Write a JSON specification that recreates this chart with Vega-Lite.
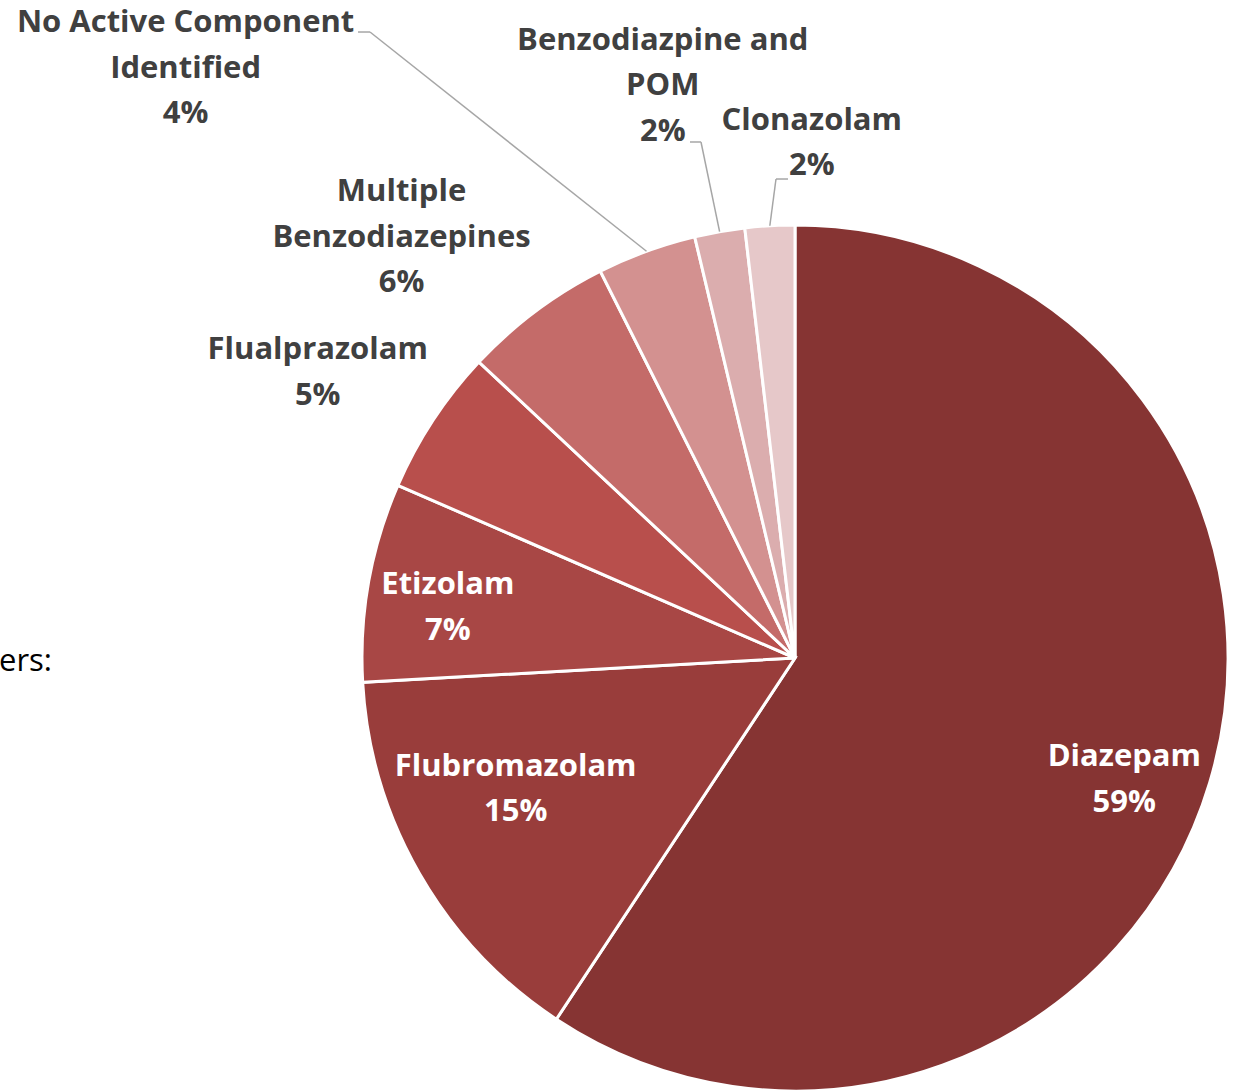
{
  "$schema": "https://vega.github.io/schema/vega-lite/v6.json",
  "width": 878,
  "height": 866,
  "autosize": {"type": "none"},
  "padding": {"left": 356, "top": 225, "right": 0, "bottom": 0},
  "background": "white",
  "config": {"view": {"stroke": null}},
  "data": {
    "values": [
      {"order": 1, "name": "Diazepam", "display": "Diazepam", "value": 59.28, "inside": true},
      {"order": 2, "name": "Flubromazolam", "display": "Flubromazolam", "value": 14.81, "inside": true},
      {"order": 3, "name": "Etizolam", "display": "Etizolam", "value": 7.42, "inside": true},
      {"order": 4, "name": "Flualprazolam", "display": "Flualprazolam", "value": 5.45, "inside": false},
      {"order": 5, "name": "Multiple Benzodiazepines", "display": "Multiple\nBenzodiazepines", "value": 5.6, "inside": false},
      {"order": 6, "name": "No Active Component Identified", "display": "No Active Component\nIdentified", "value": 3.7, "inside": false},
      {"order": 7, "name": "Benzodiazpine and POM", "display": "Benzodiazpine and\nPOM", "value": 1.87, "inside": false},
      {"order": 8, "name": "Clonazolam", "display": "Clonazolam", "value": 1.85, "inside": false}
    ]
  },
  "transform": [
    {"joinaggregate": [{"op": "sum", "field": "value", "as": "total"}]},
    {"window": [{"op": "sum", "field": "value", "as": "cum"}], "sort": [{"field": "order", "order": "ascending"}], "frame": [null, 0]},
    {"calculate": "(datum.cum - datum.value / 2) / datum.total * 2 * PI", "as": "mid"},
    {"calculate": "datum.display + '\\n' + format(datum.value / datum.total, '.0%')", "as": "label"},
    {"calculate": "split(datum.label, '\\n').length", "as": "nlines"},
    {"calculate": "datum.order === 1 ? 0.811 : datum.order === 2 ? 0.713 : datum.order === 3 ? 0.81 : datum.order === 4 ? 1.284 : datum.order === 5 ? 1.33 : datum.order === 6 ? 1.958 : datum.order === 7 ? 1.355 : 1.189", "as": "lr"},
    {"calculate": "datum.order === 1 ? 3.6 : datum.order === 2 ? 4.7 : datum.order === 3 ? -1.9 : datum.order === 4 ? -2.45 : datum.order === 5 ? -6.3 : datum.order === 6 ? -25.9 : datum.order === 7 ? -3.0 : 5.2", "as": "dA"},
    {"calculate": "datum.lr * sin(datum.mid + datum.dA * PI / 180)", "as": "lx"},
    {"calculate": "datum.lr * cos(datum.mid + datum.dA * PI / 180) + (datum.nlines - 1) * 0.05254", "as": "ly"},
    {"calculate": "sin(datum.mid)", "as": "px"},
    {"calculate": "cos(datum.mid)", "as": "py"},
    {"calculate": "datum.order === 6 ? -0.9815 : datum.order === 7 ? -0.2171 : -0.0439", "as": "kx"},
    {"calculate": "datum.order === 6 ? 1.4457 : datum.order === 7 ? 1.1917 : 1.1062", "as": "ky"},
    {"calculate": "datum.order === 6 ? -1.0092 : datum.order === 7 ? -0.2425 : -0.0162", "as": "ex"}
  ],
  "layer": [
    {
      "mark": {"type": "arc", "stroke": "white", "strokeWidth": 3},
      "encoding": {
        "theta": {"field": "value", "type": "quantitative", "stack": true},
        "order": {"field": "order", "type": "quantitative"},
        "color": {
          "field": "name",
          "type": "nominal",
          "legend": null,
          "scale": {
            "domain": ["Diazepam", "Flubromazolam", "Etizolam", "Flualprazolam", "Multiple Benzodiazepines", "No Active Component Identified", "Benzodiazpine and POM", "Clonazolam"],
            "range": ["#863433", "#993D3B", "#A84745", "#B84F4C", "#C46B69", "#D39190", "#DBADAE", "#E6C8C9"]
          }
        }
      }
    },
    {
      "transform": [{"filter": "datum.order >= 6"}],
      "mark": {"type": "rule", "color": "#A6A6A6", "strokeWidth": 1.5},
      "encoding": {
        "x": {"field": "px", "type": "quantitative", "axis": null, "scale": {"domain": [-1.01386, 1.01386], "nice": false, "zero": false}},
        "y": {"field": "py", "type": "quantitative", "axis": null, "scale": {"domain": [-1, 1], "nice": false, "zero": false}},
        "x2": {"field": "kx"},
        "y2": {"field": "ky"}
      }
    },
    {
      "transform": [{"filter": "datum.order >= 6"}],
      "mark": {"type": "rule", "color": "#A6A6A6", "strokeWidth": 1.5},
      "encoding": {
        "x": {"field": "kx", "type": "quantitative", "axis": null, "scale": {"domain": [-1.01386, 1.01386], "nice": false, "zero": false}},
        "y": {"field": "ky", "type": "quantitative", "axis": null, "scale": {"domain": [-1, 1], "nice": false, "zero": false}},
        "x2": {"field": "ex"}
      }
    },
    {
      "transform": [{"filter": "datum.inside"}],
      "mark": {"type": "text", "font": "Open Sans", "fontWeight": "bold", "fontSize": 31, "color": "white", "align": "center", "baseline": "middle", "lineBreak": "\n", "lineHeight": 45.5},
      "encoding": {
        "x": {"field": "lx", "type": "quantitative", "axis": null, "scale": {"domain": [-1.01386, 1.01386], "nice": false, "zero": false}},
        "y": {"field": "ly", "type": "quantitative", "axis": null, "scale": {"domain": [-1, 1], "nice": false, "zero": false}},
        "text": {"field": "label"}
      }
    },
    {
      "transform": [{"filter": "!datum.inside"}],
      "mark": {"type": "text", "font": "Open Sans", "fontWeight": "bold", "fontSize": 31, "color": "#404040", "align": "center", "baseline": "middle", "lineBreak": "\n", "lineHeight": 45.5},
      "encoding": {
        "x": {"field": "lx", "type": "quantitative", "axis": null, "scale": {"domain": [-1.01386, 1.01386], "nice": false, "zero": false}},
        "y": {"field": "ly", "type": "quantitative", "axis": null, "scale": {"domain": [-1, 1], "nice": false, "zero": false}},
        "text": {"field": "label"}
      }
    },
    {
      "data": {"values": [{"t": "ers:"}]},
      "mark": {"type": "text", "font": "Open Sans", "fontSize": 31, "color": "#000000", "align": "right", "baseline": "middle"},
      "encoding": {
        "x": {"datum": -1.716, "type": "quantitative", "axis": null, "scale": {"domain": [-1.01386, 1.01386], "nice": false, "zero": false}},
        "y": {"datum": -0.01, "type": "quantitative", "axis": null, "scale": {"domain": [-1, 1], "nice": false, "zero": false}},
        "text": {"field": "t"}
      }
    }
  ]
}
